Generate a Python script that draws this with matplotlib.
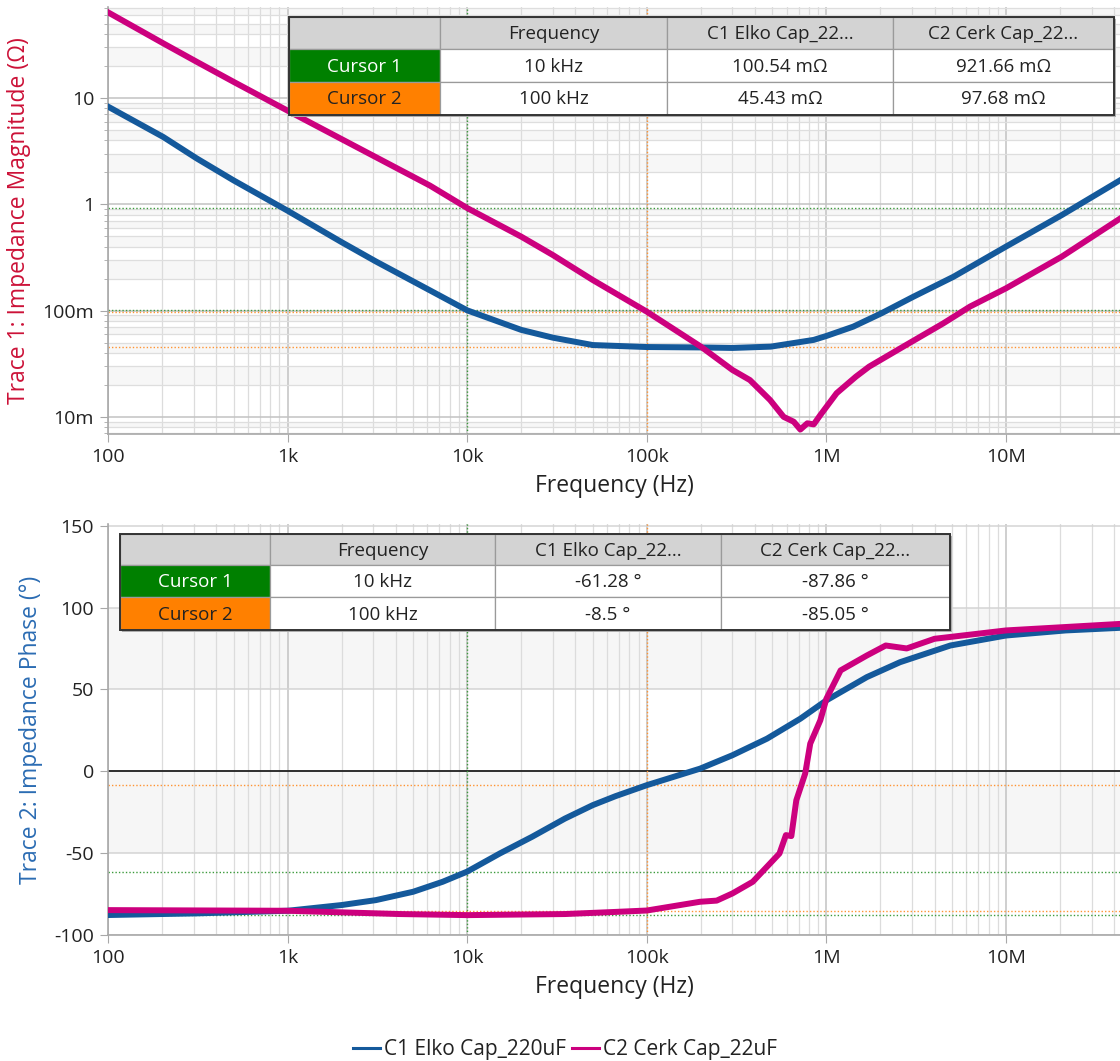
import matplotlib
matplotlib.use('Agg')
import matplotlib.pyplot as plt
from matplotlib.patches import Rectangle
from matplotlib.lines import Line2D
from matplotlib.ticker import LogLocator, NullFormatter, FixedLocator

plt.rcParams['font.family'] = ['Open Sans', 'DejaVu Sans']
plt.rcParams['axes.unicode_minus'] = False

# ---- data ----
series_names = ['C1 Elko Cap_220uF', 'C2 Cerk Cap_22uF']

# Trace 1: impedance magnitude (Ohm)
mag_c1_freq = [100, 203, 312, 500, 1e3, 2e3, 3.1e3, 6.2e3, 1e4, 2e4, 3e4, 5e4, 1e5,
               2e5, 3e5, 4.9e5, 8.5e5, 1e6, 1.41e6, 2.03e6, 3.05e6, 5.1e6, 1e7, 2.04e7, 4.34e7]
mag_c1 = [8.3, 4.3, 2.7, 1.68, 0.87, 0.44, 0.29, 0.155, 0.1005, 0.0658, 0.0556, 0.0474, 0.0454,
          0.045, 0.0445, 0.0458, 0.053, 0.0577, 0.0706, 0.0945, 0.135, 0.208, 0.40, 0.79, 1.69]

mag_c2_freq = [100, 203, 312, 500, 1e3, 2e3, 6.2e3, 1e4, 2e4, 3e4, 5e4, 1e5, 2e5, 3e5, 3.75e5,
               4.86e5, 5.78e5, 6.58e5, 7.16e5, 7.83e5, 8.5e5, 9.25e5, 1.14e6, 1.46e6, 1.73e6,
               2.68e6, 4.48e6, 6.3e6, 1e7, 2.04e7, 4.34e7]
mag_c2 = [64, 32.7, 21.9, 14.2, 7.6, 4.1, 1.5, 0.9217, 0.496, 0.333, 0.194, 0.0977, 0.0458, 0.0276, 0.0222,
          0.0144, 0.0100, 0.0090, 0.0076, 0.0087, 0.0085, 0.0104, 0.0167, 0.0239, 0.0297,
          0.0458, 0.0759, 0.109, 0.162, 0.321, 0.738]

# Trace 2: impedance phase (deg)
ph_c1_freq = [100, 312, 1e3, 2e3, 3.1e3, 5e3, 7.3e3, 1e4, 1.52e4, 2.3e4, 3.5e4, 5e4, 6.7e4, 1e5,
              1.98e5, 3e5, 4.67e5, 7.16e5, 1e6, 1.68e6, 2.57e6, 4.9e6, 1e7, 2.15e7, 4.34e7]
ph_c1 = [-87.8, -86.8, -85.2, -81.7, -78.7, -73.6, -67.5, -61.28, -50.2, -40, -28.9, -20.7, -15.2, -8.5,
         1.6, 9.8, 19.9, 32.1, 43.3, 57.5, 66.6, 76.8, 82.9, 86, 87.6]

ph_c2_freq = [100, 1e3, 4.2e3, 1e4, 3.5e4, 6.7e4, 1e5, 1.98e5, 2.45e5, 3e5, 3.89e5, 5.48e5, 5.95e5,
              6.38e5, 6.8e5, 7.62e5, 8.13e5, 9.25e5, 1e6, 1.2e6, 1.68e6, 2.14e6, 2.8e6, 4e6, 1e7, 4.34e7]
ph_c2 = [-84.8, -85.2, -87.2, -87.86, -87.2, -85.9, -85.05, -79.7, -79, -74.6, -67.5, -50.2, -39,
         -39.6, -17.7, -1.4, 16.9, 31.1, 44.3, 61.6, 70.7, 76.8, 75, 80.9, 86, 90]

# cursors
cursor_freq = [1e4, 1e5]
cursor_mag = [[0.10054, 0.92166], [0.04543, 0.09768]]
cursor_ph = [[-61.28, -87.86], [-8.5, -85.05]]

table_header = ['', 'Frequency', 'C1 Elko Cap_22...', 'C2 Cerk Cap_22...']
mag_table = [['Cursor 1', '10 kHz', '100.54 mΩ', '921.66 mΩ'],
             ['Cursor 2', '100 kHz', '45.43 mΩ', '97.68 mΩ']]
ph_table = [['Cursor 1', '10 kHz', '-61.28 °', '-87.86 °'],
            ['Cursor 2', '100 kHz', '-8.5 °', '-85.05 °']]

x_ticks = [100, 1e3, 1e4, 1e5, 1e6, 1e7]
x_ticklabels = ['100', '1k', '10k', '100k', '1M', '10M']
mag_ticks = [0.01, 0.1, 1, 10]
mag_ticklabels = ['10m', '100m', '1', '10']
ph_ticks = [-100, -50, 0, 50, 100, 150]

# ---- style ----
c_blue = '#14599b'
c_pink = '#cc007e'
c_green = '#3c9a3c'
c_orange = '#ff9433'
W, H = 1120, 1061

fig = plt.figure(figsize=(W / 100, H / 100), dpi=100)
fig.patch.set_facecolor('white')

ax1 = fig.add_axes([108 / W, 1 - 434 / H, 1 - 108 / W, (434 - 7) / H])
ax2 = fig.add_axes([108 / W, 1 - 935 / H, 1 - 108 / W, (935 - 524) / H])

xmax = 10 ** (2 + (W - 108) / 179.6)


def style_axis(ax):
    ax.set_xscale('log')
    ax.set_xlim(100, xmax)
    for s in ['top', 'right']:
        ax.spines[s].set_visible(False)
    for s in ['left', 'bottom']:
        ax.spines[s].set_color('#a8a8a8')
        ax.spines[s].set_linewidth(1.2)
    ax.set_xticks(x_ticks)
    ax.set_xticklabels(x_ticklabels)
    ax.xaxis.set_minor_locator(LogLocator(base=10, subs=range(2, 10), numticks=20))
    ax.xaxis.set_minor_formatter(NullFormatter())
    ax.tick_params(axis='both', which='major', length=6, color='#a8a8a8',
                   labelsize=14, labelcolor='#222222', pad=4)
    ax.tick_params(axis='x', which='minor', length=0)
    ax.xaxis.grid(True, which='major', color='#c2c2c2', lw=1.1)
    ax.xaxis.grid(True, which='minor', color='#dcdcdc', lw=0.9)
    ax.set_xlabel('Frequency (Hz)', fontsize=16.5, color='#222222', labelpad=6)
    ax.set_axisbelow(True)


# ===== Trace 1: magnitude =====
style_axis(ax1)
ax1.set_yscale('log')
ax1.set_ylim(6.9e-3, 71.8)
for d in [-3, -2, -1, 0, 1]:
    for a in [2, 4, 6, 8]:
        ax1.axhspan(a * 10 ** d, (a + 1) * 10 ** d, color='#f7f7f7', lw=0, zorder=0)
ax1.set_yticks(mag_ticks)
ax1.set_yticklabels(mag_ticklabels)
ax1.yaxis.set_minor_locator(LogLocator(base=10, subs=range(2, 10), numticks=20))
ax1.yaxis.set_minor_formatter(NullFormatter())
ax1.tick_params(axis='y', which='minor', length=3, color='#a8a8a8')
ax1.yaxis.grid(True, which='major', color='#c2c2c2', lw=1.1)
ax1.yaxis.grid(True, which='minor', color='#dedede', lw=0.9)
ax1.set_ylabel('Trace 1: Impedance Magnitude (Ω)', fontsize=16.5, color='#cc1238', labelpad=8)

for f, col in zip(cursor_freq, [c_green, c_orange]):
    ax1.axvline(f, color=col, lw=1.0, ls=(0, (1, 1.5)), zorder=1)
for vals, col in zip(cursor_mag, [c_green, c_orange]):
    for v in vals:
        ax1.axhline(v, color=col, lw=1.0, ls=(0, (1, 1.5)), zorder=1)

ax1.plot(mag_c1_freq, mag_c1, color=c_blue, lw=4.3, zorder=3)
ax1.plot(mag_c2_freq, mag_c2, color=c_pink, lw=4.3, zorder=3)

# ===== Trace 2: phase =====
style_axis(ax2)
ax2.set_ylim(-100, 151)
ax2.axhspan(50, 100, color='#f6f6f6', lw=0, zorder=0)
ax2.axhspan(-50, 0, color='#f6f6f6', lw=0, zorder=0)
ax2.yaxis.set_major_locator(FixedLocator(ph_ticks))
ax2.yaxis.grid(True, which='major', color='#d4d4d4', lw=1.1)
ax2.set_ylabel('Trace 2: Impedance Phase (°)', fontsize=16.5, color='#2b6cb3', labelpad=8)
ax2.axhline(0, color='black', lw=1.1, zorder=1)

for f, col in zip(cursor_freq, [c_green, c_orange]):
    ax2.axvline(f, color=col, lw=1.0, ls=(0, (1, 1.5)), zorder=1)
for vals, col in zip(cursor_ph, [c_green, c_orange]):
    for v in vals:
        ax2.axhline(v, color=col, lw=1.0, ls=(0, (1, 1.5)), zorder=1)

ax2.plot(ph_c1_freq, ph_c1, color=c_blue, lw=4.3, zorder=3)
ax2.plot(ph_c2_freq, ph_c2, color=c_pink, lw=4.3, zorder=3)

# ===== cursor tables (pixel coordinates overlay) =====
ov = fig.add_axes([0, 0, 1, 1], zorder=10)
ov.set_xlim(0, W)
ov.set_ylim(H, 0)
ov.axis('off')
ov.patch.set_alpha(0)


def draw_table(xe, ye, rows):
    data = [table_header] + rows
    # shadow
    ov.add_patch(Rectangle((xe[0] + 2, ye[0] + 2), xe[-1] - xe[0], ye[-1] - ye[0],
                           facecolor='#b0b0b0', edgecolor='none'))
    for r in range(3):
        for c in range(4):
            if r == 0:
                fc, tc = '#d3d3d3', '#222222'
            elif c == 0 and r == 1:
                fc, tc = '#008000', 'white'
            elif c == 0 and r == 2:
                fc, tc = '#ff8000', '#222222'
            else:
                fc, tc = 'white', '#222222'
            ov.add_patch(Rectangle((xe[c], ye[r]), xe[c + 1] - xe[c], ye[r + 1] - ye[r],
                                   facecolor=fc, edgecolor='#9a9a9a', lw=0.9))
            ov.text((xe[c] + xe[c + 1]) / 2, (ye[r] + ye[r + 1]) / 2 + 1, data[r][c],
                    ha='center', va='center', fontsize=13.5, color=tc)
    ov.add_patch(Rectangle((xe[0], ye[0]), xe[-1] - xe[0], ye[-1] - ye[0],
                           facecolor='none', edgecolor='#333333', lw=1.4))


draw_table([289, 440, 667, 893, 1114], [17, 49, 82, 115], mag_table)
draw_table([120, 270, 495, 721, 950], [534, 565, 597, 630], ph_table)

# ===== legend =====
handles = [Line2D([], [], color=c_blue, lw=2.2), Line2D([], [], color=c_pink, lw=2.2)]
fig.legend(handles, series_names, loc='center', bbox_to_anchor=(565 / W, 1 - 1050 / H),
           ncol=2, frameon=False, fontsize=15, handlelength=1.3, handletextpad=0.2,
           columnspacing=0.3, labelcolor='#222222')

fig.savefig('out.png', dpi=100, facecolor='white')
